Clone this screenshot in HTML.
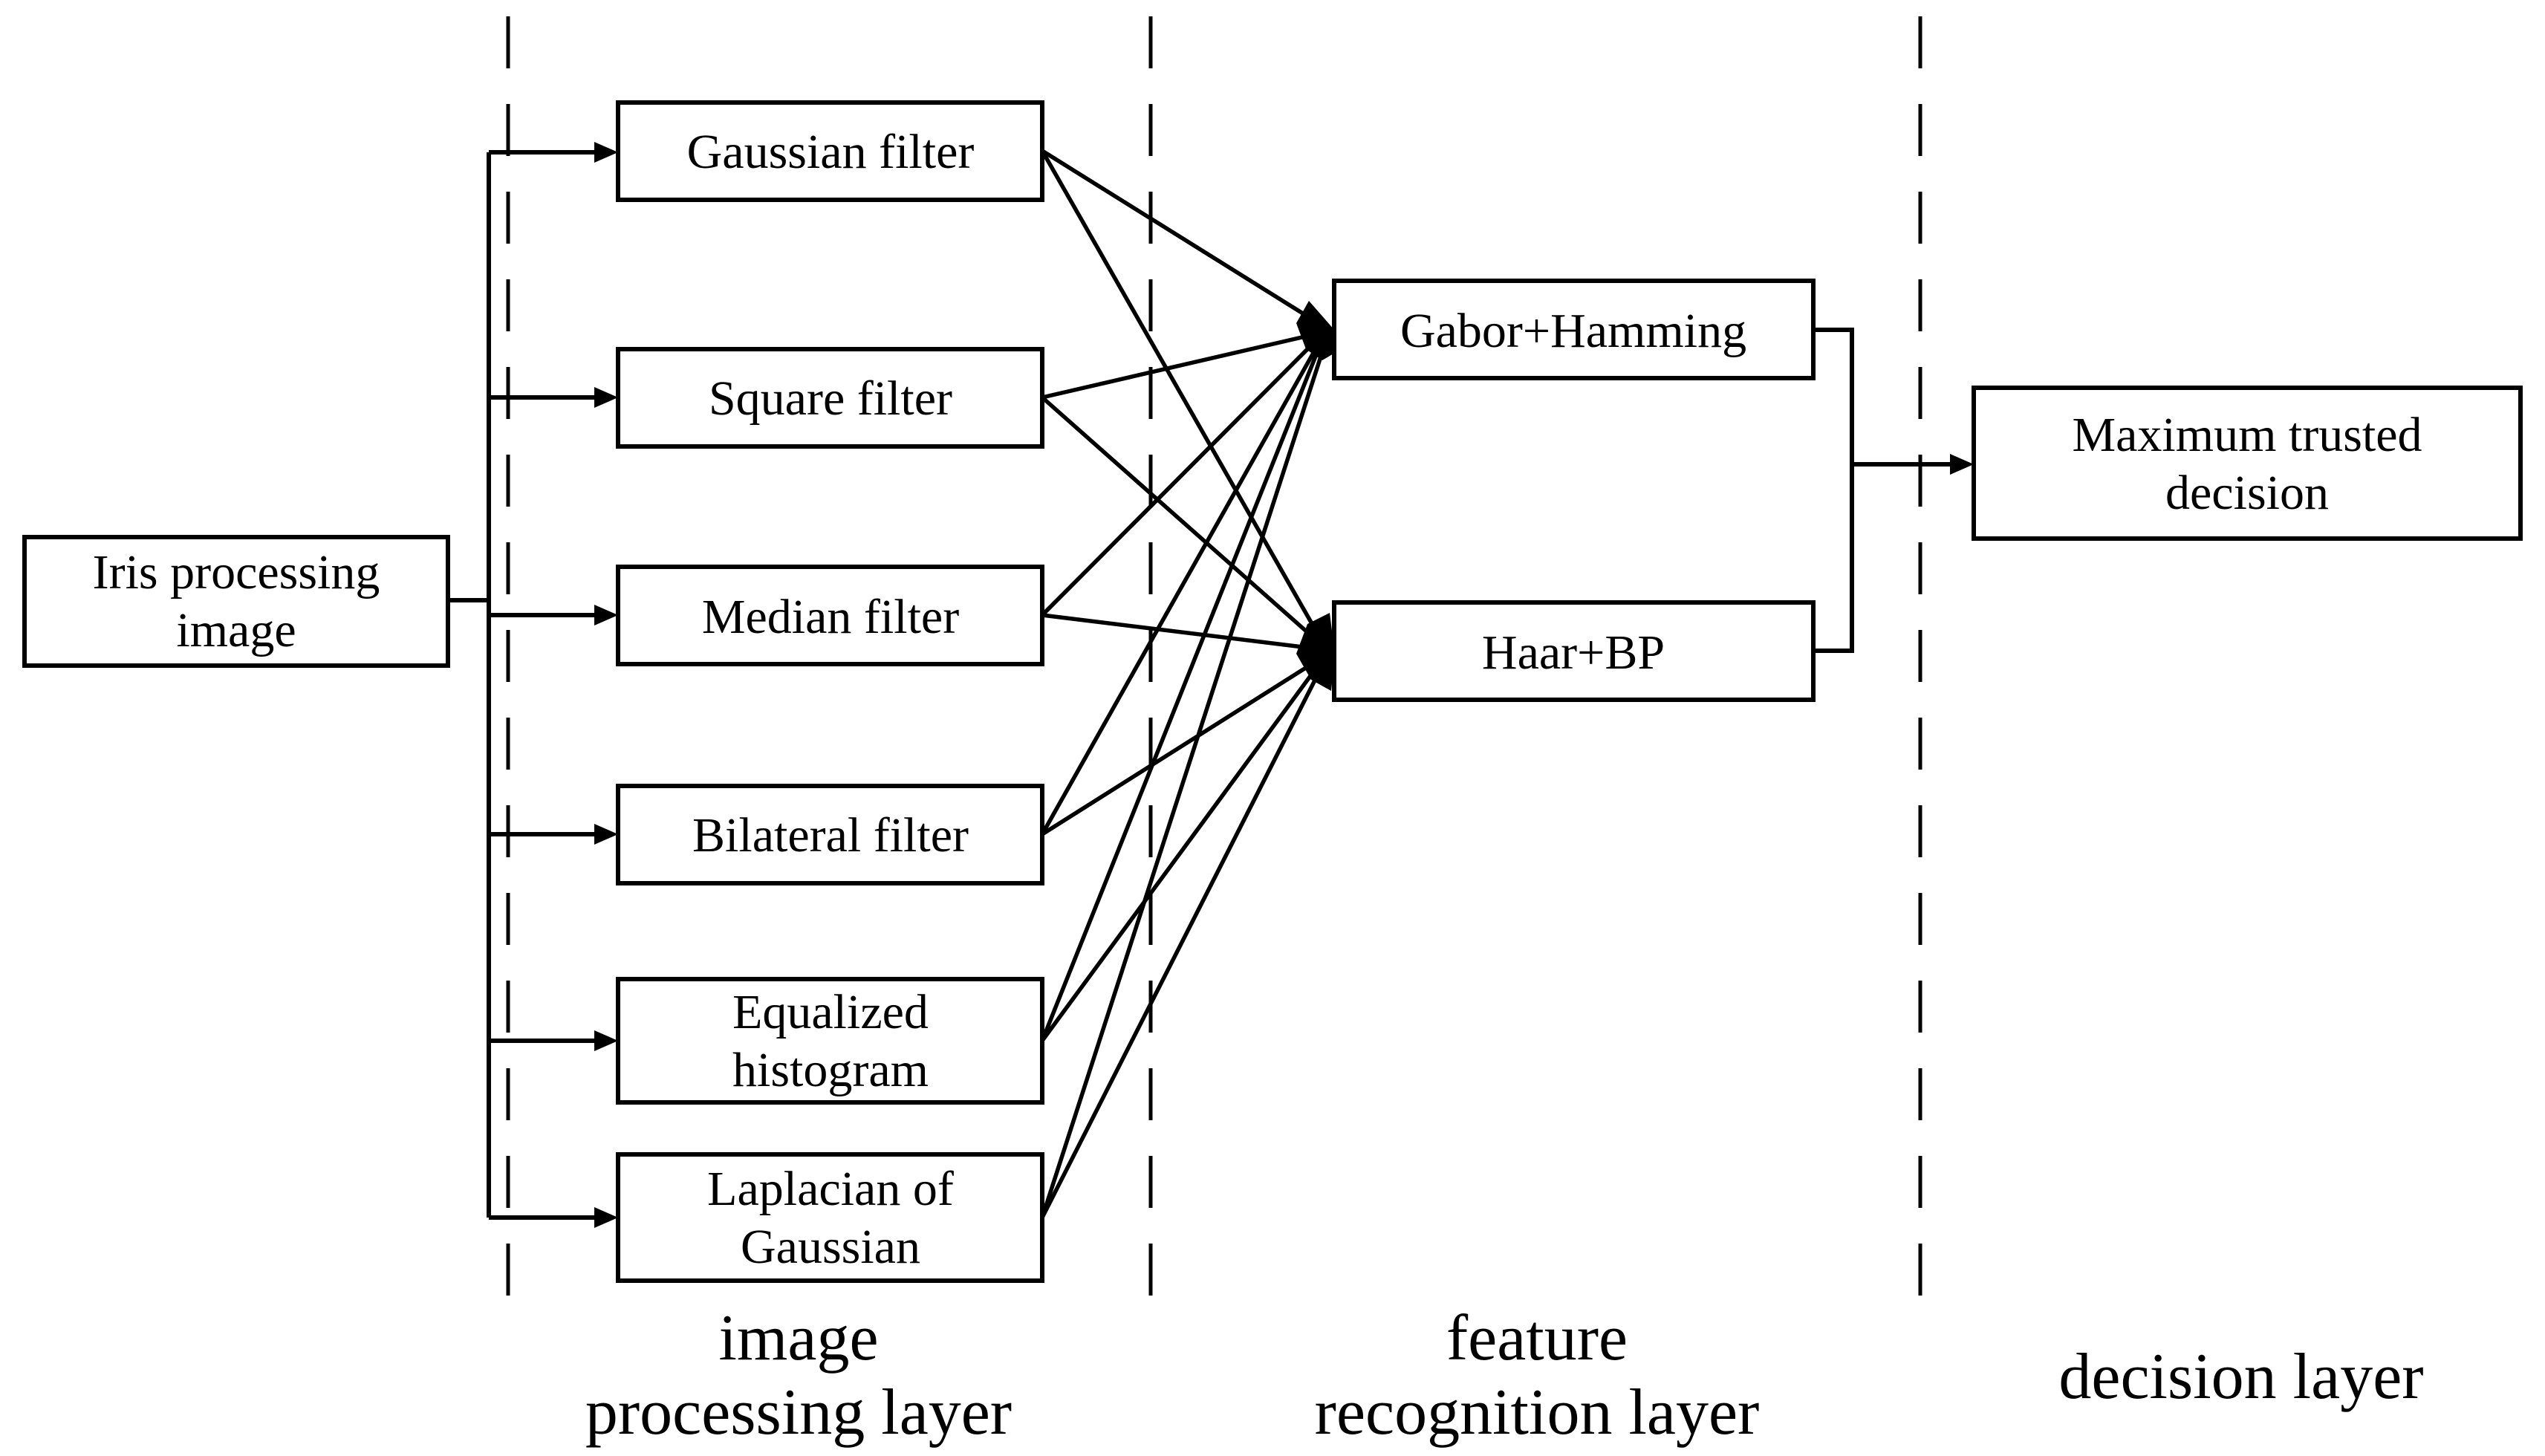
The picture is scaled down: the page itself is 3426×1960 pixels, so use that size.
<!DOCTYPE html>
<html><head><meta charset="utf-8"><style>
html,body{margin:0;padding:0;background:#fff;}
svg{display:block;}
text{font-family:"Liberation Serif",serif;fill:#000;}
</style></head><body>
<svg width="3426" height="1960" viewBox="0 0 3426 1960" xmlns="http://www.w3.org/2000/svg">
<g stroke="#000" stroke-width="5" stroke-dasharray="70,48" fill="none">
<line x1="684" y1="22" x2="684" y2="1792"/>
<line x1="1549" y1="22" x2="1549" y2="1792"/>
<line x1="2585" y1="22" x2="2585" y2="1792"/>
</g>
<g stroke="#000" stroke-width="6" fill="#fff">
<rect x="33" y="723" width="570" height="173"/>
<rect x="832" y="138" width="571" height="131"/>
<rect x="832" y="470" width="571" height="131"/>
<rect x="832" y="763" width="571" height="131"/>
<rect x="832" y="1058" width="571" height="131"/>
<rect x="832" y="1318" width="571" height="166"/>
<rect x="832" y="1554" width="571" height="170"/>
<rect x="1796" y="378" width="645" height="131"/>
<rect x="1796" y="811" width="645" height="131"/>
<rect x="2657" y="522" width="736" height="203"/>
</g>
<g stroke="#000" stroke-width="6" fill="none">
<polyline points="603,808 658,808"/>
<line x1="658" y1="205" x2="658" y2="1639"/>
<line x1="658" y1="205" x2="800" y2="205"/>
<line x1="658" y1="535" x2="800" y2="535"/>
<line x1="658" y1="828" x2="800" y2="828"/>
<line x1="658" y1="1123" x2="800" y2="1123"/>
<line x1="658" y1="1401" x2="800" y2="1401"/>
<line x1="658" y1="1639" x2="800" y2="1639"/>
<polyline points="2441,444 2493,444 2493,876 2441,876"/>
<line x1="2493" y1="625" x2="2625" y2="625"/>
<g stroke-width="5.5">
<line x1="1403" y1="203" x2="1770" y2="432"/>
<line x1="1403" y1="535" x2="1770" y2="450"/>
<line x1="1403" y1="828" x2="1770" y2="460"/>
<line x1="1403" y1="1123" x2="1772" y2="468"/>
<line x1="1403" y1="1401" x2="1774" y2="472"/>
<line x1="1403" y1="1639" x2="1778" y2="480"/>
<line x1="1403" y1="203" x2="1772" y2="850"/>
<line x1="1403" y1="535" x2="1770" y2="860"/>
<line x1="1403" y1="828" x2="1770" y2="873"/>
<line x1="1403" y1="1123" x2="1772" y2="890"/>
<line x1="1403" y1="1401" x2="1775" y2="895"/>
<line x1="1403" y1="1639" x2="1778" y2="900"/>
</g>
</g>
<g fill="#000">
<polygon points="832,205 800,191 800,219"/>
<polygon points="832,535 800,521 800,549"/>
<polygon points="832,828 800,814 800,842"/>
<polygon points="832,1123 800,1109 800,1137"/>
<polygon points="832,1401 800,1387 800,1415"/>
<polygon points="832,1639 800,1625 800,1653"/>
<polygon points="2657,625 2625,611 2625,639"/>
<polygon points="1797,445 1762,405 1745,435 1758,470 1780,485 1797,475"/>
<polygon points="1797,881 1790,825 1760,840 1745,880 1765,915 1792,930"/>
</g>
<g font-size="66" text-anchor="middle">
<text x="318" y="792">Iris processing</text>
<text x="318" y="870">image</text>
<text x="1118" y="226">Gaussian filter</text>
<text x="1118" y="558">Square filter</text>
<text x="1118" y="852">Median filter</text>
<text x="1118" y="1146">Bilateral filter</text>
<text x="1118" y="1384">Equalized</text>
<text x="1118" y="1462">histogram</text>
<text x="1118" y="1622">Laplacian of</text>
<text x="1118" y="1700">Gaussian</text>
<text x="2118" y="467">Gabor+Hamming</text>
<text x="2118" y="900">Haar+BP</text>
<text x="3025" y="607">Maximum trusted</text>
<text x="3025" y="685">decision</text>
</g>
<g font-size="88" text-anchor="middle">
<text x="1075" y="1830">image</text>
<text x="1075" y="1930">processing layer</text>
<text x="2069" y="1830">feature</text>
<text x="2069" y="1930">recognition layer</text>
<text x="3017" y="1882">decision layer</text>
</g>
</svg>
</body></html>
